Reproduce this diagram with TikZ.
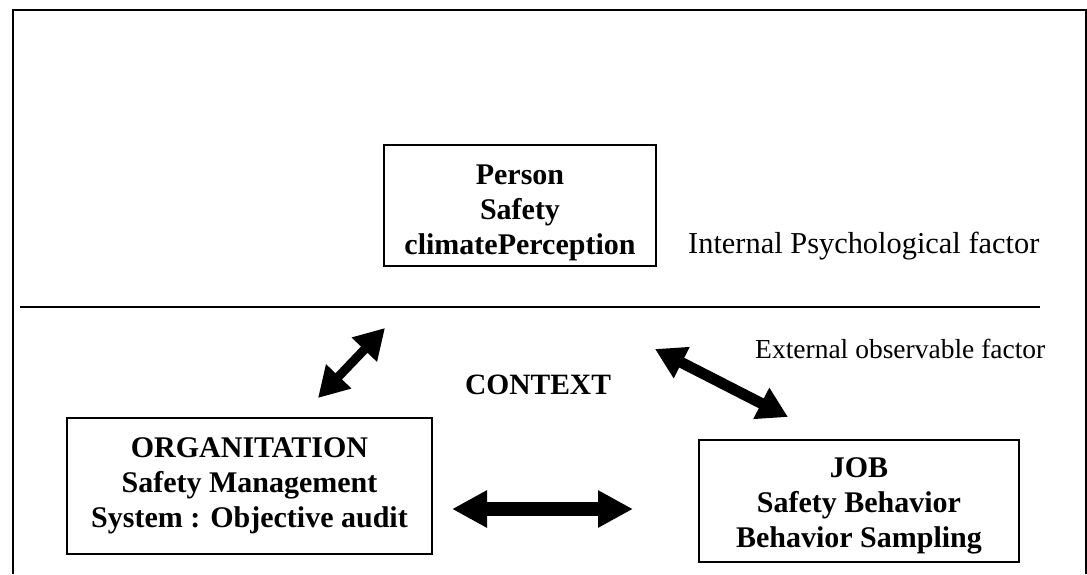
\documentclass[tikz,border=0pt]{standalone}
\usepackage{fontspec}
\setmainfont{Liberation Serif}
\usepackage{tikz}
\usetikzlibrary{positioning}
\usetikzlibrary{arrows.meta}

\begin{document}
\begin{tikzpicture}[x=1pt,y=-1pt]

            \tikzstyle{factorBox} = [draw, line width=2pt, align=center, inner sep=0pt, font=\bfseries\fontsize{30}{35}\selectfont];
            \tikzstyle{levelLabel} = [anchor=west, inner sep=0pt, font=\fontsize{30.4}{36}\selectfont];
            \tikzstyle{linkArrow} = [line width=11pt, {Triangle[length=30pt,width=33pt]}-{Triangle[length=30pt,width=33pt]}];

            \useasboundingbox (0,0) rectangle (1087,574);

            % frame and level divider
            \draw[line width=2pt] (13,574) -- (13,10) -- (1086,10) -- (1086,574);
            \coordinate (divL) at (20,307);
            \coordinate (divR) at (1040,307);
            \draw[line width=1.5pt] (divL) -- (divR);

            \node[factorBox, minimum width=272pt, minimum height=121pt] (person) at (520,205.5) {\rule{0pt}{35pt}Person\\Safety\\climatePerception};
            \node[factorBox, minimum width=365pt, minimum height=136pt] (org) at (249.5,486) {ORGANITATION\\Safety Management\\System : Objective audit};
            \node[factorBox, minimum width=320pt, minimum height=122pt] (job) at (859,501) {\rule{0pt}{30pt}JOB\\Safety Behavior\\Behavior Sampling};

            \node[levelLabel] (internal) at (688,246) {Internal Psychological factor};
            \node[levelLabel, font=\fontsize{27.5}{33}\selectfont] (external) at (755,349) {External observable factor};
            \node[font=\bfseries\fontsize{29.5}{35}\selectfont, inner sep=0pt] (context) at (538,385) {CONTEXT};

            % free ends of the links
            \coordinate (orgUp) at (318,398);
            \coordinate (personDown) at (385,328);
            \coordinate (personRight) at (655,349);
            \coordinate (jobUp) at (788,417);
            \coordinate (orgRight) at (452,509);
            \coordinate (jobLeft) at (633,509);

            \draw[linkArrow, line width=9pt] (orgUp) -- (personDown);
            \draw[linkArrow] (personRight) -- (jobUp);
            \draw[linkArrow, line width=14pt, {Triangle[length=35pt,width=35pt]}-{Triangle[length=35pt,width=35pt]}] (orgRight) -- (jobLeft);
          \end{tikzpicture}
\end{document}
